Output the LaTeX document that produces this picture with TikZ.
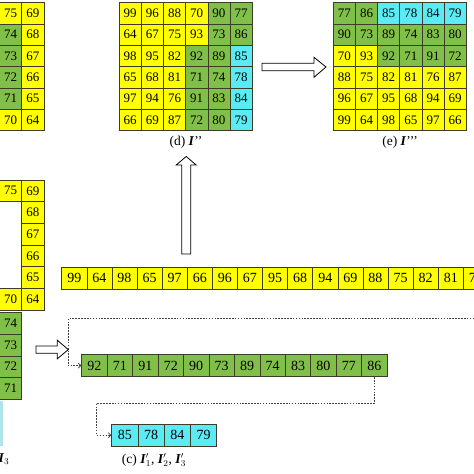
\documentclass[tikz,border=0pt]{standalone}
\usepackage{fontspec}
\setmainfont{Liberation Serif}
\usetikzlibrary{arrows.meta}
\definecolor{colY}{RGB}{255,255,0}
\definecolor{colG}{RGB}{128,192,72}
\definecolor{colC}{RGB}{90,235,245}
\definecolor{colL}{RGB}{175,228,234}
\definecolor{cellline}{RGB}{60,60,40}
\newcommand{\bi}[1]{\textbf{\textit{#1}}}
\begin{document}
\begin{tikzpicture}[x=1pt,y=-1pt,
  cell/.style={draw=cellline,line width=0.6pt,inner sep=0pt,font=\fontsize{13}{13}\selectfont},
  gcell/.style={cell,minimum width=22.2,minimum height=21.33},
  rcell/.style={cell,minimum height=21.7,font=\fontsize{14}{14}\selectfont},
  hollow/.style={draw=black,line width=0.8pt,fill=white,line join=miter},
  dconn/.style={draw=black!75,line width=0.7pt,dash pattern=on 1.6pt off 1.3pt,-{Straight Barb[length=2.6pt,width=5pt]}},
  captxt/.style={font=\fontsize{13.5}{14}\selectfont,inner sep=0pt}]
\useasboundingbox (0,0) rectangle (474,474);
\fill[white] (0,0) rectangle (474,474);
\clip (0,0) rectangle (474,474);
% grid (d)
\foreach \row [count=\i from 0] in {{99/Y,96/Y,88/Y,70/Y,90/G,77/G},{64/Y,67/Y,75/Y,93/Y,73/G,86/G},{98/Y,95/Y,82/Y,92/G,89/G,85/C},{65/Y,68/Y,81/Y,71/G,74/G,78/C},{97/Y,94/Y,76/Y,91/G,83/G,84/C},{66/Y,69/Y,87/Y,72/G,80/G,79/C}}{
  \foreach \v/\c [count=\j from 0] in \row {
    \node[gcell,fill=col\c] (d\i\j) at ({119+22.2*(\j+0.5)},{2.7+21.33*(\i+0.5)}) {\v};
  }
}
% grid (e)
\foreach \row [count=\i from 0] in {{77/G,86/G,85/C,78/C,84/C,79/C},{90/G,73/G,89/G,74/G,83/G,80/G},{70/Y,93/Y,92/G,71/G,91/G,72/G},{88/Y,75/Y,82/Y,81/Y,76/Y,87/Y},{96/Y,67/Y,95/Y,68/Y,94/Y,69/Y},{99/Y,64/Y,98/Y,65/Y,97/Y,66/Y}}{
  \foreach \v/\c [count=\j from 0] in \row {
    \node[gcell,fill=col\c] (e\i\j) at ({333.3+22.17*(\j+0.5)},{2.7+21.33*(\i+0.5)}) {\v};
  }
}
% grid (a), right part
\foreach \va/\ca/\vb [count=\i from 0] in {75/Y/69,74/G/68,73/G/67,72/G/66,71/G/65,70/Y/64}{
  \node[gcell,fill=col\ca] (aA\i) at (10.6,{2.7+21.33*(\i+0.5)}) {\va};
  \node[gcell,fill=colY] (aB\i) at (32.8,{2.7+21.33*(\i+0.5)}) {\vb};
}
% (b) pieces
\foreach \v [count=\i from 0] in {69,68,67,66,65,64}{
  \node[gcell,fill=colY,minimum height=21.67] (bB\i) at (32.8,{180+21.67*(\i+0.5)}) {\v};
}
\node[gcell,fill=colY,minimum height=21.67] (bA0) at (10.6,190.8) {75};
\node[gcell,fill=colY,minimum height=21.67] (bA5) at (10.6,299.2) {70};
\foreach \v [count=\i from 0] in {74,73,72,71}{
  \node[gcell,fill=colG,minimum height=21.75] (bG\i) at (10.6,{312.3+21.75*(\i+0.5)}) {\v};
}
\node[gcell,fill=colL,draw=colL,minimum height=21.67] (bC0) at (-8.8,412.5) {};
\node[gcell,fill=colL,draw=colL,minimum height=21.67] (bC1) at (-8.8,434.2) {};
\node[captxt,anchor=east] (capb) at (9.5,459) {(b) \bi{I}$_1$, \bi{I}$_2$, \bi{I}$_3$};
% yellow row
\foreach \v [count=\j from 0] in {99,64,98,65,97,66,96,67,95,68,94,69,88,75,82,81,76,87}{
  \node[rcell,fill=colY,minimum width=25.1] (y\j) at ({61.7+25.1*(\j+0.5)},278.2) {\v};
}
% green row
\foreach \v [count=\j from 0] in {92,71,91,72,90,73,89,74,83,80,77,86}{
  \node[rcell,fill=colG,minimum width=25.45,minimum height=22.2] (g\j) at ({81.7+25.45*(\j+0.5)},365.6) {\v};
}
% cyan row
\foreach \v [count=\j from 0] in {85,78,84,79}{
  \node[rcell,fill=colC,minimum width=26.25] (c\j) at ({111.7+26.25*(\j+0.5)},435.2) {\v};
}
% captions
\node[captxt] (capd) at (186,142) {(d) \bi{I}'{}'};
\node[captxt] (cape) at (400,142) {(e) \bi{I}'{}'{}'};
\node[captxt] (capc) at (154,460) {(c) \bi{I}$_1^{\prime}$, \bi{I}$_2^{\prime}$, \bi{I}$_3^{\prime}$};
% hollow arrows
\draw[hollow] (181.7,254) -- (181.7,165) -- (176.2,165) -- (186.2,156.5) -- (196.2,165) -- (190.7,165) -- (190.7,254) -- cycle;
\draw[hollow] (262,63.3) -- (314,63.3) -- (314,57.3) -- (326,67) -- (314,77.3) -- (314,70.7) -- (262,70.7) -- cycle;
\draw[hollow] (36,346) -- (57.3,346) -- (57.3,340.2) -- (68.3,349.6) -- (57.3,358.8) -- (57.3,353.3) -- (36,353.3) -- cycle;
% dashed connectors
\coordinate (ystart) at (480,318.5);
\coordinate (bend1) at (68.3,318.5);
\coordinate (bend2) at (96.5,403.3);
\draw[dconn] (ystart) -- (bend1) |- (g0.west);
\draw[dconn] (g11.south) |- (bend2) |- (c0.west);
\end{tikzpicture}
\end{document}
